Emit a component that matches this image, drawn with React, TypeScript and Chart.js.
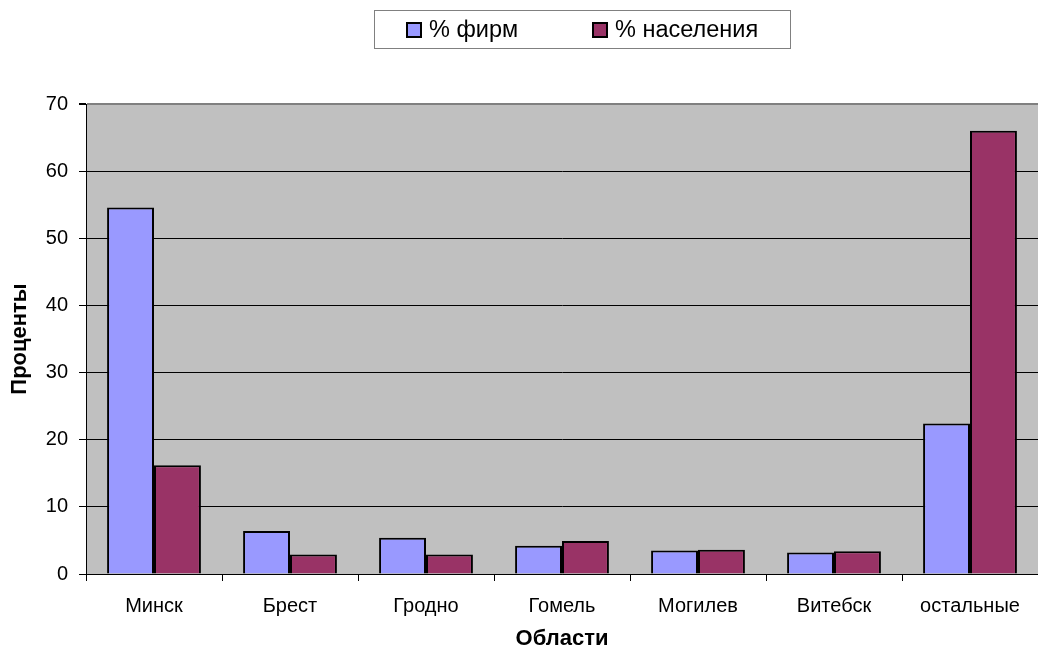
import React, { useEffect, useRef } from "react";
import { Chart, registerables } from "chart.js";

Chart.register(...registerables);

const categories = ["Минск", "Брест", "Гродно", "Гомель", "Могилев", "Витебск", "остальные"];
const firmsPct = [54.6, 6.4, 5.4, 4.2, 3.5, 3.2, 22.4];
const populationPct = [16.2, 2.9, 2.9, 4.9, 3.6, 3.4, 66.0];
const seriesLabels = ["% фирм", "% населения"];
const yTicks = { min: 0, max: 70, step: 10 };
const axisTitles = { x: "Области", y: "Проценты" };

const FONT = "'Liberation Sans', Arial, sans-serif";

const plotBg = {
  id: "plotBg",
  beforeDraw(chart: any) {
    const { ctx, chartArea } = chart;
    ctx.save();
    ctx.fillStyle = "#C0C0C0";
    ctx.fillRect(chartArea.left, chartArea.top, chartArea.right - chartArea.left, chartArea.bottom - chartArea.top);
    ctx.restore();
  },
};

const boxLegend = {
  id: "boxLegend",
  afterDraw(chart: any) {
    const { ctx } = chart;
    const boxX = 374.5, boxY = 10.5, boxW = 416, boxH = 38;
    ctx.save();
    ctx.fillStyle = "#fff";
    ctx.fillRect(boxX, boxY, boxW, boxH);
    ctx.strokeStyle = "#808080";
    ctx.lineWidth = 1;
    ctx.strokeRect(boxX, boxY, boxW, boxH);
    ctx.font = `23.5px ${FONT}`;
    ctx.textBaseline = "middle";
    const starts = [407, 593];
    chart.data.datasets.forEach((ds: any, i: number) => {
      const mx = starts[i];
      const my = 23;
      ctx.fillStyle = ds.backgroundColor;
      ctx.fillRect(mx, my, 14, 14);
      ctx.strokeStyle = "#000";
      ctx.lineWidth = 2;
      ctx.strokeRect(mx, my, 14, 14);
      ctx.fillStyle = "#000";
      ctx.fillText(ds.label, mx + 22, 31);
    });
    ctx.restore();
  },
};

export default function App() {
  const ref = useRef<HTMLCanvasElement | null>(null);
  useEffect(() => {
    document.body.style.margin = "0";
    if (!ref.current) return;
    const chart = new Chart(ref.current, {
      type: "bar",
      data: {
        labels: categories,
        datasets: [
          {
            label: seriesLabels[0],
            data: firmsPct,
            backgroundColor: "#9999FF",
            borderColor: "#000",
            borderWidth: 2,
            barPercentage: 1,
            categoryPercentage: 0.69,
          },
          {
            label: seriesLabels[1],
            data: populationPct,
            backgroundColor: "#993366",
            borderColor: "#000",
            borderWidth: 2,
            barPercentage: 1,
            categoryPercentage: 0.69,
          },
        ],
      },
      options: {
        responsive: false,
        animation: false,
        layout: { padding: { top: 104, left: 0, right: 0, bottom: 0 } },
        plugins: {
          legend: { display: false },
          tooltip: { enabled: false },
        },
        scales: {
          x: {
            offset: true,
            grid: {
              offset: true,
              drawOnChartArea: false,
              drawTicks: true,
              tickLength: 7,
              tickColor: "#000",
              color: "#000",
            },
            border: { display: true, color: "#000", width: 1 },
            ticks: {
              color: "#000",
              font: { family: FONT, size: 20 },
              padding: 13,
              maxRotation: 0,
              autoSkip: false,
            },
            title: {
              display: true,
              text: axisTitles.x,
              color: "#000",
              font: { family: FONT, size: 22, weight: "bold" },
              padding: { top: 0, bottom: 3 },
            },
            afterFit(scale: any) {
              scale.height = 81;
            },
          },
          y: {
            min: yTicks.min,
            max: yTicks.max,
            grid: {
              color: (c: any) => (c.tick && c.tick.value === yTicks.max ? "#808080" : "#000"),
              lineWidth: (c: any) => (c.tick && c.tick.value === yTicks.max ? 2 : 1),
              tickColor: "#000",
              tickLength: 7,
              drawTicks: true,
            },
            border: { display: true, color: "#000", width: 1 },
            ticks: {
              stepSize: yTicks.step,
              color: "#000",
              font: { family: FONT, size: 20 },
              padding: 11,
            },
            title: {
              display: true,
              text: axisTitles.y,
              color: "#000",
              font: { family: FONT, size: 22, weight: "bold" },
              padding: { top: 7, bottom: 0 },
            },
            afterFit(scale: any) {
              scale.width = 86;
            },
          },
        },
      },
      plugins: [plotBg, boxLegend],
    });
    return () => chart.destroy();
  }, []);
  return (
    <div style={{ position: "fixed", left: 0, top: 0, width: 1038, height: 655, background: "#fff" }}>
      <canvas ref={ref} width={1038} height={655} style={{ display: "block" }} />
    </div>
  );
}
